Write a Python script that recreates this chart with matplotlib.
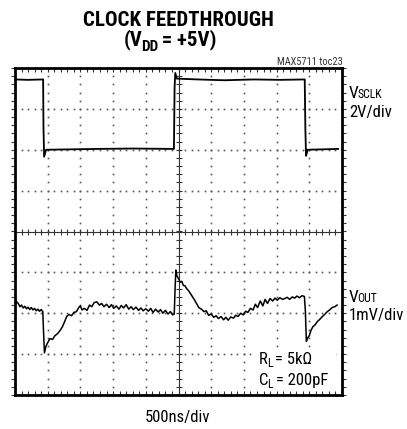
import numpy as np
import matplotlib.pyplot as plt
from matplotlib.patches import Rectangle

plt.rcParams['font.family'] = ['Roboto Condensed', 'Roboto', 'DejaVu Sans']
plt.rcParams['font.stretch'] = 'condensed'

# scope traces, x in divisions (500ns/div), y in screen divisions (0 = centre)
sclk_x = [0.00, 0.40, 0.86, 0.87, 0.89, 0.95, 2.50, 3.60, 4.86, 4.88, 4.90, 4.95,
          5.60, 6.40, 7.30, 8.10, 8.86, 8.88, 8.90, 8.95, 9.88]
sclk_y = [3.72, 3.71, 3.72, 2.60, 1.83, 2.00, 2.02, 2.03, 2.02, 3.50, 3.88, 3.74,
          3.72, 3.70, 3.72, 3.71, 3.72, 2.50, 1.85, 2.00, 2.02]

vout_x = [0.00, 0.05, 0.10, 0.15, 0.20, 0.25, 0.30, 0.35, 0.40, 0.45, 0.50, 0.55,
          0.60, 0.65, 0.70, 0.75, 0.80, 0.85, 0.87, 0.90, 0.95, 1.00, 1.07, 1.15,
          1.22, 1.30, 1.38, 1.45, 1.52, 1.58, 1.65, 1.73, 1.80, 1.88, 1.95, 2.00,
          2.05, 2.12, 2.20, 2.28, 2.35, 2.42, 2.50, 2.58, 2.65, 2.72, 2.80, 2.88,
          2.95, 3.02, 3.10, 3.18, 3.25, 3.32, 3.40, 3.48, 3.55, 3.62, 3.70, 3.78,
          3.85, 3.92, 4.00, 4.08, 4.15, 4.22, 4.30, 4.38, 4.45, 4.52, 4.60, 4.68,
          4.75, 4.82, 4.87, 4.90, 4.92, 4.95, 5.00, 5.05, 5.10, 5.15, 5.20, 5.25,
          5.30, 5.35, 5.40, 5.48, 5.55, 5.62, 5.70, 5.78, 5.85, 5.92, 6.00, 6.08,
          6.15, 6.22, 6.30, 6.38, 6.45, 6.52, 6.60, 6.68, 6.75, 6.82, 6.90, 6.98,
          7.05, 7.12, 7.20, 7.28, 7.35, 7.42, 7.50, 7.58, 7.65, 7.72, 7.80, 7.88,
          7.95, 8.02, 8.10, 8.18, 8.25, 8.32, 8.40, 8.48, 8.55, 8.62, 8.70, 8.78,
          8.85, 8.88, 8.91, 8.95, 9.00, 9.05, 9.11, 9.18, 9.25, 9.32, 9.40, 9.48,
          9.55, 9.62, 9.70, 9.78, 9.85]
vout_y = [-1.79, -1.72, -1.76, -1.84, -1.80, -1.87, -1.83, -1.89, -1.85, -1.91, -1.86, -1.92,
          -1.88, -1.94, -1.90, -1.95, -1.91, -1.96, -2.40, -2.97, -2.80, -2.72, -2.62, -2.64,
          -2.55, -2.50, -2.42, -2.33, -2.20, -2.08, -2.03, -2.06, -1.98, -1.96, -1.86, -1.82,
          -1.92, -1.88, -1.93, -1.80, -1.84, -1.74, -1.72, -1.80, -1.76, -1.84, -1.78, -1.86,
          -1.79, -1.88, -1.82, -1.90, -1.81, -1.87, -1.79, -1.90, -1.84, -1.91, -1.85, -1.93,
          -1.87, -1.94, -1.89, -1.95, -1.88, -1.98, -1.90, -1.97, -1.91, -2.00, -1.93, -2.02,
          -1.96, -2.04, -2.02, -1.30, -0.94, -1.08, -1.15, -1.24, -1.22, -1.32, -1.33, -1.40,
          -1.44, -1.50, -1.56, -1.66, -1.76, -1.86, -1.90, -1.96, -1.94, -2.05, -2.02, -2.10,
          -2.06, -2.13, -2.08, -2.16, -2.10, -2.17, -2.09, -2.12, -2.05, -2.08, -2.00, -2.04,
          -1.95, -1.98, -1.88, -1.92, -1.78, -1.86, -1.70, -1.82, -1.66, -1.76, -1.64, -1.70,
          -1.63, -1.68, -1.62, -1.66, -1.64, -1.61, -1.66, -1.60, -1.63, -1.58, -1.62, -1.57,
          -1.59, -1.95, -2.69, -2.60, -2.55, -2.42, -2.33, -2.28, -2.20, -2.15, -2.08, -2.02,
          -1.96, -1.92, -1.86, -1.84, -1.80]

W, H = 407, 429
fig = plt.figure(figsize=(W / 100, H / 100), dpi=100)
ax = fig.add_axes([15/W, 34/H, 327/W, 327/H])
ax.set_xlim(0, 10)
ax.set_ylim(-4, 4)
ax.set_xticks([])
ax.set_yticks([])
for s in ax.spines.values():
    s.set_linewidth(2.0)

# dotted graticule
minor_x = np.arange(0, 10.01, 0.2)
minor_y = np.arange(-4, 4.01, 0.2)
for gx in range(1, 10):
    if gx != 5:
        ax.plot(np.full_like(minor_y, gx), minor_y, ls='none', marker='s', ms=1.2, color='#555555', mew=0)
for gy in range(-3, 4):
    if gy != 0:
        ax.plot(minor_x, np.full_like(minor_x, gy), ls='none', marker='s', ms=1.2, color='#555555', mew=0)

# centre axes with small ticks
ax.axhline(0, color='#333333', lw=0.8)
ax.axvline(5, color='#333333', lw=0.8)
ax.plot(minor_x, np.zeros_like(minor_x), ls='none', marker='|', ms=5, mew=0.8, color='#333333')
ax.plot(np.full_like(minor_y, 5), minor_y, ls='none', marker='_', ms=5, mew=0.8, color='#333333')

# edge ticks (inside)
ax.plot(minor_x, np.full_like(minor_x, 4), ls='none', marker=3, ms=3, mew=0.8, color='#333333', clip_on=False)
ax.plot(minor_x, np.full_like(minor_x, -4), ls='none', marker=2, ms=3, mew=0.8, color='#333333', clip_on=False)
ax.plot(np.full_like(minor_y, 0), minor_y, ls='none', marker=0, ms=3, mew=0.8, color='#333333', clip_on=False)
ax.plot(np.full_like(minor_y, 10), minor_y, ls='none', marker=1, ms=3, mew=0.8, color='#333333', clip_on=False)

ax.plot(sclk_x, sclk_y, color='black', lw=1.3)
ax.plot(vout_x, vout_y, color='black', lw=1.1)


def chain_text(px, py, parts, gap=-1.2, **kw):
    # parts: (text, fontsize, vertical shift in points), laid out left to right
    first = fig.text(px / W, 1 - py / H, parts[0][0], fontsize=parts[0][1],
                     ha='left', va='bottom', **kw)
    prev = first
    for txt, size, dy in parts[1:]:
        prev = ax.annotate(txt, xy=(1, 0), xycoords=(prev, first),
                           xytext=(gap, dy), textcoords='offset points',
                           fontsize=size, ha='left', va='bottom', annotation_clip=False,
                           zorder=5, **kw)
    return first


# title
fig.text(178/W, 1 - 26/H, 'CLOCK FEEDTHROUGH', fontsize=15, fontweight='bold',
         ha='center', va='baseline')
chain_text(124, 50, [('(V', 15, 0), ('DD', 11, -3), (' = +5V)', 15, 0)], gap=-1.0, fontweight='bold')
fig.text(343/W, 1 - 65/H, 'MAX5711 toc23', fontsize=7.5, ha='right', va='baseline',
         color='#333333', fontstretch='normal')

# channel labels
chain_text(349, 101, [('V', 12.5, 0), ('SCLK', 8.5, 0)], gap=-1.2)
fig.text(349/W, 1 - 117/H, '2V/div', fontsize=12, ha='left', va='baseline')
chain_text(349, 305, [('V', 12.5, 0), ('OUT', 8.5, 0)], gap=-1.2)
fig.text(349/W, 1 - 320/H, '1mV/div', fontsize=12, ha='left', va='baseline')

# load conditions, on a white patch over the graticule
ax.add_patch(Rectangle((256/W, 1 - 390/H), 80/W, 40/H, transform=fig.transFigure,
                       facecolor='white', edgecolor='none', zorder=3))
chain_text(259, 367, [('R', 12, 0), ('L', 8.5, -2.5), (' = 5k\u03a9', 12, 0)], gap=-0.8)
chain_text(259, 388, [('C', 12, 0), ('L', 8.5, -2.5), (' = 200pF', 12, 0)], gap=-0.8)

fig.text(178/W, 1 - 422/H, '500ns/div', fontsize=12, ha='center', va='baseline')

fig.savefig('out.png', dpi=100)
